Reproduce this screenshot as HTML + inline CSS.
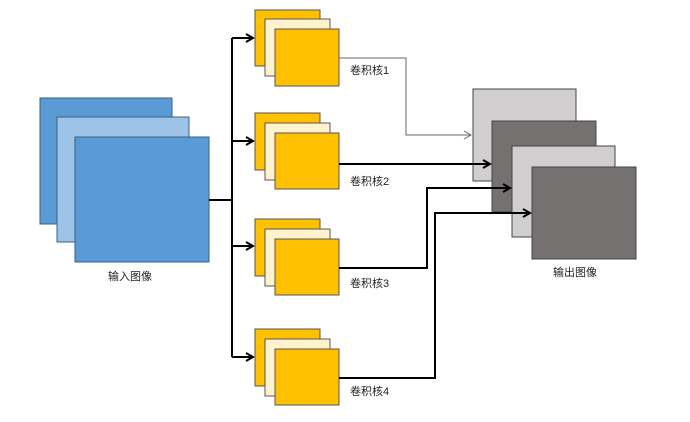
<!DOCTYPE html>
<html><head><meta charset="utf-8"><style>
html,body{margin:0;padding:0;background:#fff;}
svg text{font-family:"Liberation Sans","Noto Sans CJK SC",sans-serif;font-size:11px;fill:#222;}
</style></head><body>
<svg width="690" height="417" viewBox="0 0 690 417" xmlns="http://www.w3.org/2000/svg">
<defs>
<marker id="ah" markerWidth="10" markerHeight="10" refX="8" refY="5" orient="auto" markerUnits="userSpaceOnUse"><path d="M1,1 L8,5 L1,9" fill="none" stroke="#000" stroke-width="2"/></marker>
<marker id="ht" markerWidth="10" markerHeight="10" refX="8" refY="5" orient="auto" markerUnits="userSpaceOnUse"><path d="M1,1 L8,5 L1,9" fill="none" stroke="#666" stroke-width="1"/></marker>
</defs>
<g stroke="#3a5f88" stroke-width="1">
<rect x="40" y="98" width="132" height="126" fill="#5b9bd5"/>
<rect x="57" y="117" width="132" height="125" fill="#9dc3e6"/>
<rect x="75" y="137" width="134" height="125" fill="#5b9bd5"/>
</g>
<text x="108" y="280">输入图像</text>
<g stroke="#000" stroke-width="2" fill="none">
<path d="M209,200 H232"/>
<path d="M232,38 V357"/>
<path d="M232,38 H253" marker-end="url(#ah)"/>
<path d="M232,141 H253" marker-end="url(#ah)"/>
<path d="M232,246 H253" marker-end="url(#ah)"/>
<path d="M232,357 H253" marker-end="url(#ah)"/>
</g>
<g stroke="#555" stroke-width="1">
<rect x="255" y="10" width="65" height="56" fill="#ffc000"/>
<rect x="265" y="19" width="65" height="57" fill="#fff2cc"/>
<rect x="275" y="29" width="64" height="57" fill="#ffc000"/>
</g>
<g stroke="#555" stroke-width="1">
<rect x="255" y="113" width="65" height="57" fill="#ffc000"/>
<rect x="265" y="123" width="65" height="57" fill="#fff2cc"/>
<rect x="275" y="133" width="64" height="56" fill="#ffc000"/>
</g>
<g stroke="#555" stroke-width="1">
<rect x="255" y="219" width="65" height="57" fill="#ffc000"/>
<rect x="265" y="229" width="65" height="57" fill="#fff2cc"/>
<rect x="275" y="239" width="64" height="56" fill="#ffc000"/>
</g>
<g stroke="#555" stroke-width="1">
<rect x="255" y="329" width="65" height="57" fill="#ffc000"/>
<rect x="265" y="339" width="65" height="57" fill="#fff2cc"/>
<rect x="275" y="349" width="64" height="56" fill="#ffc000"/>
</g>
<text x="350" y="74">卷积核1</text>
<text x="350" y="185">卷积核2</text>
<text x="350" y="287">卷积核3</text>
<text x="350" y="395">卷积核4</text>
<g stroke="#444" stroke-width="1">
<rect x="473" y="89" width="103" height="92" fill="#d0cece"/>
<rect x="492" y="121" width="104" height="91" fill="#767171"/>
<rect x="512" y="146" width="103" height="91" fill="#d0cece"/>
<rect x="532" y="167" width="104" height="92" fill="#767171"/>
</g>
<text x="553" y="276">输出图像</text>
<path d="M339,58 H406 V135 H471" fill="none" stroke="#666" stroke-width="1" marker-end="url(#ht)"/>
<g stroke="#000" stroke-width="2" fill="none">
<path d="M339,164 H490" marker-end="url(#ah)"/>
<path d="M339,268 H427 V188 H510" marker-end="url(#ah)"/>
<path d="M339,378 H435 V213 H530" marker-end="url(#ah)"/>
</g>
</svg>
</body></html>
